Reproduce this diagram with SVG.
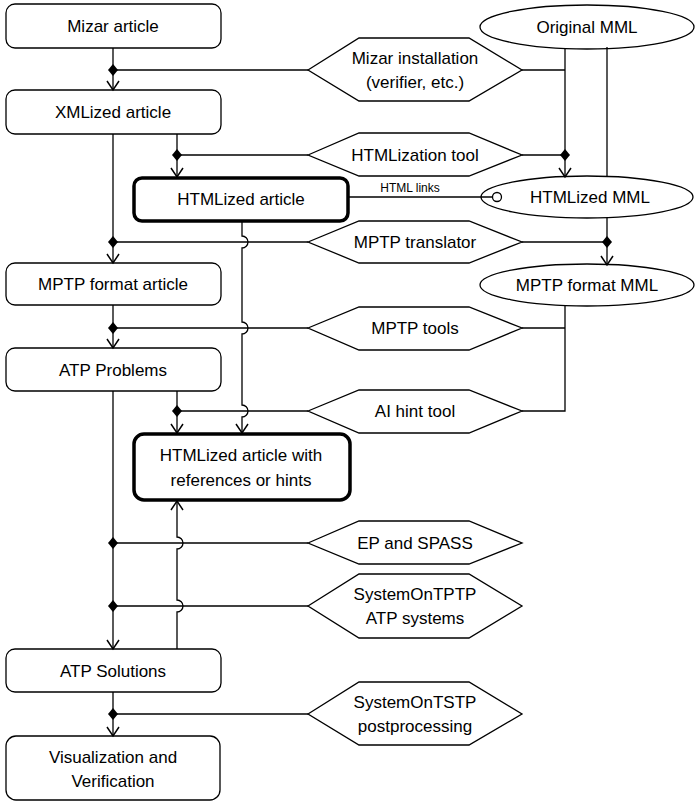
<svg xmlns="http://www.w3.org/2000/svg" xmlns:xlink="http://www.w3.org/1999/xlink" width="695" height="802" viewBox="0 0 695 802">
<style>
.b{fill:#fff;stroke:#000;stroke-width:1.3}
.t{fill:#fff;stroke:#000;stroke-width:3.5}
.l{fill:none;stroke:#000;stroke-width:1.3}
text{font-family:"Liberation Sans",Arial,sans-serif;font-size:17px;text-anchor:middle;fill:#000}
.s{font-size:12px}
</style>
<defs>
<marker id="a" markerWidth="14" markerHeight="14" refX="12" refY="7" orient="auto" markerUnits="userSpaceOnUse"><path d="M3,1 L12,7 L3,13" fill="none" stroke="#000" stroke-width="1.5"/></marker>
<path id="d" d="M0,-6 L5,0 L0,6 L-5,0Z" fill="#000"/>
</defs>
<g id="mizar-article"><rect class="b" x="6" y="4" width="215" height="44" rx="9"/><text x="113" y="32">Mizar article</text></g>
<g id="xmlized-article"><rect class="b" x="6" y="90" width="215" height="44" rx="9"/><text x="113" y="118">XMLized article</text></g>
<g id="htmlized-article"><rect class="t" x="134" y="178" width="214" height="43" rx="8"/><text x="241" y="205">HTMLized article</text></g>
<g id="mptp-format-article"><rect class="b" x="6" y="263" width="215" height="42" rx="9"/><text x="113" y="290">MPTP format article</text></g>
<g id="atp-problems"><rect class="b" x="6" y="348" width="215" height="43" rx="9"/><text x="113" y="376">ATP Problems</text></g>
<g id="htmlized-hints"><rect class="t" x="134" y="434" width="216" height="66" rx="10"/><text x="241" y="461">HTMLized article with</text><text x="241" y="486">references or hints</text></g>
<g id="atp-solutions"><rect class="b" x="6" y="649" width="215" height="43" rx="9"/><text x="113" y="677">ATP Solutions</text></g>
<g id="visualization"><rect class="b" x="6" y="736" width="214" height="64" rx="10"/><text x="113" y="763">Visualization and</text><text x="113" y="787">Verification</text></g>
<g id="original-mml"><ellipse class="b" cx="587" cy="27" rx="107" ry="22"/><text x="587" y="33">Original MML</text></g>
<g id="htmlized-mml"><ellipse class="b" cx="587" cy="197" rx="106" ry="21"/><text x="590" y="203">HTMLized MML</text></g>
<g id="mptp-format-mml"><ellipse class="b" cx="587" cy="285" rx="107" ry="21"/><text x="587" y="291">MPTP format MML</text></g>
<g id="mizar-installation"><polygon class="b" points="308,70 359,38 469,38 522,70 469,101 359,101"/><text x="415" y="64">Mizar installation</text><text x="415" y="88">(verifier, etc.)</text></g>
<g id="htmlization-tool"><polygon class="b" points="308,155 359,133 469,133 522,155 469,176 359,176"/><text x="415" y="161">HTMLization tool</text></g>
<g id="mptp-translator"><polygon class="b" points="308,242 359,221 469,221 522,242 469,263 359,263"/><text x="415" y="248">MPTP translator</text></g>
<g id="mptp-tools"><polygon class="b" points="308,328 359,307 469,307 522,328 469,350 359,350"/><text x="415" y="334">MPTP tools</text></g>
<g id="ai-hint-tool"><polygon class="b" points="308,411 359,390 469,390 522,411 469,433 359,433"/><text x="415" y="417">AI hint tool</text></g>
<g id="ep-spass"><polygon class="b" points="308,543 359,521 469,521 522,543 469,564 359,564"/><text x="415" y="549">EP and SPASS</text></g>
<g id="systemontptp"><polygon class="b" points="308,606 359,574 469,574 522,606 469,638 359,638"/><text x="415" y="600">SystemOnTPTP</text><text x="415" y="624">ATP systems</text></g>
<g id="systemontstp"><polygon class="b" points="308,714 359,682 469,682 522,714 469,745 359,745"/><text x="415" y="708">SystemOnTSTP</text><text x="415" y="732">postprocessing</text></g>
<g id="connectors">
<path class="l" d="M113,48 V90" marker-end="url(#a)"/>
<path class="l" d="M113,134 V263" marker-end="url(#a)"/>
<path class="l" d="M113,305 V348" marker-end="url(#a)"/>
<path class="l" d="M113,391 V649" marker-end="url(#a)"/>
<path class="l" d="M113,692 V736" marker-end="url(#a)"/>
<path class="l" d="M177,134 V177" marker-end="url(#a)"/>
<path class="l" d="M177,391 V433" marker-end="url(#a)"/>
<path class="l" d="M242,222 V236 A6,6 0 0 1 242,248 V322 A6,6 0 0 1 242,334 V405 A6,6 0 0 1 242,417 V433" marker-end="url(#a)"/>
<path class="l" d="M177,649 V612 A6,6 0 0 0 177,600 V549 A6,6 0 0 0 177,537 V501" marker-end="url(#a)"/>
<path class="l" d="M113,70 H308"/>
<path class="l" d="M522,70 H565"/>
<path class="l" d="M565,49 V177" marker-end="url(#a)"/>
<path class="l" d="M607,47 V177"/>
<path class="l" d="M177,155 H308"/>
<path class="l" d="M522,155 H565"/>
<path class="l" d="M607,218 V265" marker-end="url(#a)"/>
<path class="l" d="M113,242 H308"/>
<path class="l" d="M522,242 H607"/>
<path class="l" d="M113,328 H308"/>
<path class="l" d="M522,328 H565"/>
<path class="l" d="M565,306 V411 H522"/>
<path class="l" d="M177,411 H308"/>
<path class="l" d="M113,543 H308"/>
<path class="l" d="M113,606 H308"/>
<path class="l" d="M113,714 H308"/>
<path class="l" d="M349,197 H492"/>
<circle cx="497" cy="197" r="4.5" fill="#fff" stroke="#000" stroke-width="1.3"/>
<text class="s" x="410" y="192">HTML links</text>
<use href="#d" x="113" y="70"/>
<use href="#d" x="177" y="155"/>
<use href="#d" x="565" y="155"/>
<use href="#d" x="113" y="242"/>
<use href="#d" x="607" y="242"/>
<use href="#d" x="113" y="328"/>
<use href="#d" x="177" y="411"/>
<use href="#d" x="113" y="543"/>
<use href="#d" x="113" y="606"/>
<use href="#d" x="113" y="714"/>
</g>
</svg>
